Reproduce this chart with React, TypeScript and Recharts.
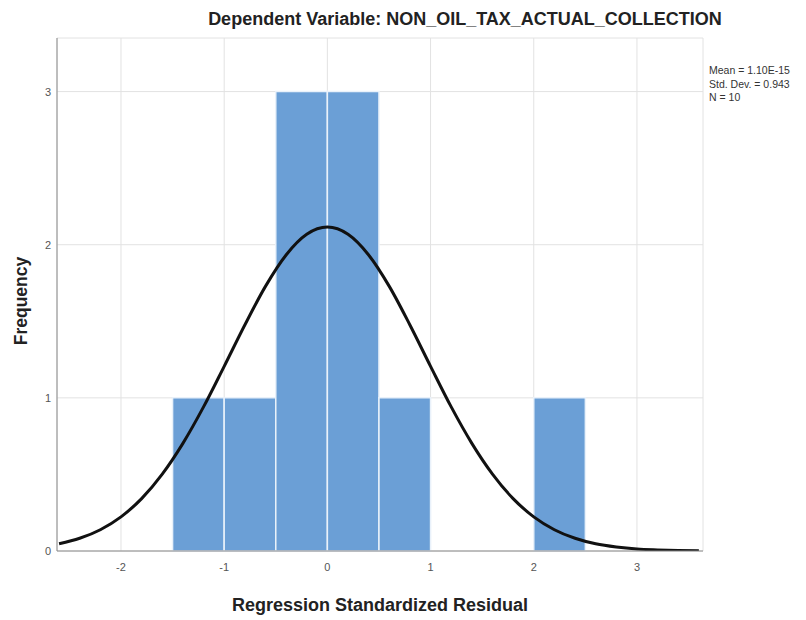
import { ComposedChart, Line, XAxis, YAxis, CartesianGrid, ReferenceArea } from 'recharts'

// histogram bins (left edges) and counts
const binLeft = [-1.5, -1, -0.5, 0, 0.5, 1, 1.5, 2]
const binRight = [-1, -0.5, 0, 0.5, 1, 1.5, 2, 2.5]
const binCount = [1, 1, 3, 3, 1, 0, 0, 1]

// normal curve
const curveX = [-2.6, -2.4, -2.2, -2.0, -1.8, -1.6, -1.4, -1.2, -1.0, -0.8, -0.6, -0.4, -0.2, 0,
  0.2, 0.4, 0.6, 0.8, 1.0, 1.2, 1.4, 1.6, 1.8, 2.0, 2.2, 2.4, 2.6, 2.8, 3.0, 3.2, 3.4, 3.6]
const curveY = [0.047, 0.083, 0.139, 0.223, 0.342, 0.502, 0.703, 0.941, 1.206, 1.476, 1.728, 1.933, 2.068, 2.115,
  2.068, 1.933, 1.728, 1.476, 1.206, 0.941, 0.703, 0.502, 0.342, 0.223, 0.139, 0.083, 0.047, 0.026, 0.013, 0.007, 0.003, 0.001]

const xTicks = [-2, -1, 0, 1, 2, 3]
const yTicks = [0, 1, 2, 3]
const statLines = ['Mean = 1.10E-15', 'Std. Dev. = 0.943', 'N = 10']

const title = 'Dependent Variable: NON_OIL_TAX_ACTUAL_COLLECTION'
const xTitle = 'Regression Standardized Residual'
const yTitle = 'Frequency'

const font = '"Liberation Sans", Arial, sans-serif'

const curve = curveX.map((x, i) => ({ x, y: curveY[i] }))

export default function App() {
  return (
    <div style={{ position: 'absolute', left: 0, top: 0, width: 806, height: 620, background: '#fff', fontFamily: font }}>
      <ComposedChart
        width={806}
        height={620}
        data={curve}
        margin={{ top: 38, right: 103, bottom: 0, left: 0 }}
      >
        <CartesianGrid stroke="#e2e2e2" />
        <XAxis
          dataKey="x"
          type="number"
          domain={[-2.62, 3.64]}
          allowDataOverflow
          ticks={xTicks}
          tickLine={false}
          tickMargin={6}
          height={69}
          stroke="#8a8a8a"
          tick={{ fill: '#555', fontSize: 11, fontFamily: font }}
        />
        <YAxis
          type="number"
          domain={[0, 3.35]}
          allowDataOverflow
          ticks={yTicks}
          tickLine={false}
          tickMargin={0}
          width={57}
          stroke="#8a8a8a"
          tick={{ fill: '#555', fontSize: 11, fontFamily: font }}
        />
        {binLeft.map((x1, i) =>
          binCount[i] > 0 ? (
            <ReferenceArea
              key={i}
              x1={x1}
              x2={binRight[i]}
              y1={0}
              y2={binCount[i]}
              fill="#6b9fd6"
              fillOpacity={1}
              stroke="#e9f1fa"
              strokeWidth={1.5}
              strokeOpacity={1}
            />
          ) : null
        )}
        <Line
          type="monotone"
          dataKey="y"
          stroke="#111"
          strokeWidth={3}
          dot={false}
          isAnimationActive={false}
        />
      </ComposedChart>
      <svg width={806} height={620} style={{ position: 'absolute', left: 0, top: 0, pointerEvents: 'none' }}>
        <text x={465} y={25} textAnchor="middle" fontFamily={font} fontWeight="bold" fontSize={18} fill="#222">
          {title}
        </text>
        {statLines.map((s, i) => (
          <text key={s} x={709} y={74 + i * 13.5} fontFamily={font} fontSize={10.5} fill="#333">
            {s}
          </text>
        ))}
        <text x={380} y={611} textAnchor="middle" fontFamily={font} fontWeight="bold" fontSize={18} fill="#222">
          {xTitle}
        </text>
        <text
          x={0}
          y={0}
          transform="translate(27, 301) rotate(-90)"
          textAnchor="middle"
          fontFamily={font}
          fontWeight="bold"
          fontSize={17.5}
          fill="#222"
        >
          {yTitle}
        </text>
      </svg>
    </div>
  )
}
